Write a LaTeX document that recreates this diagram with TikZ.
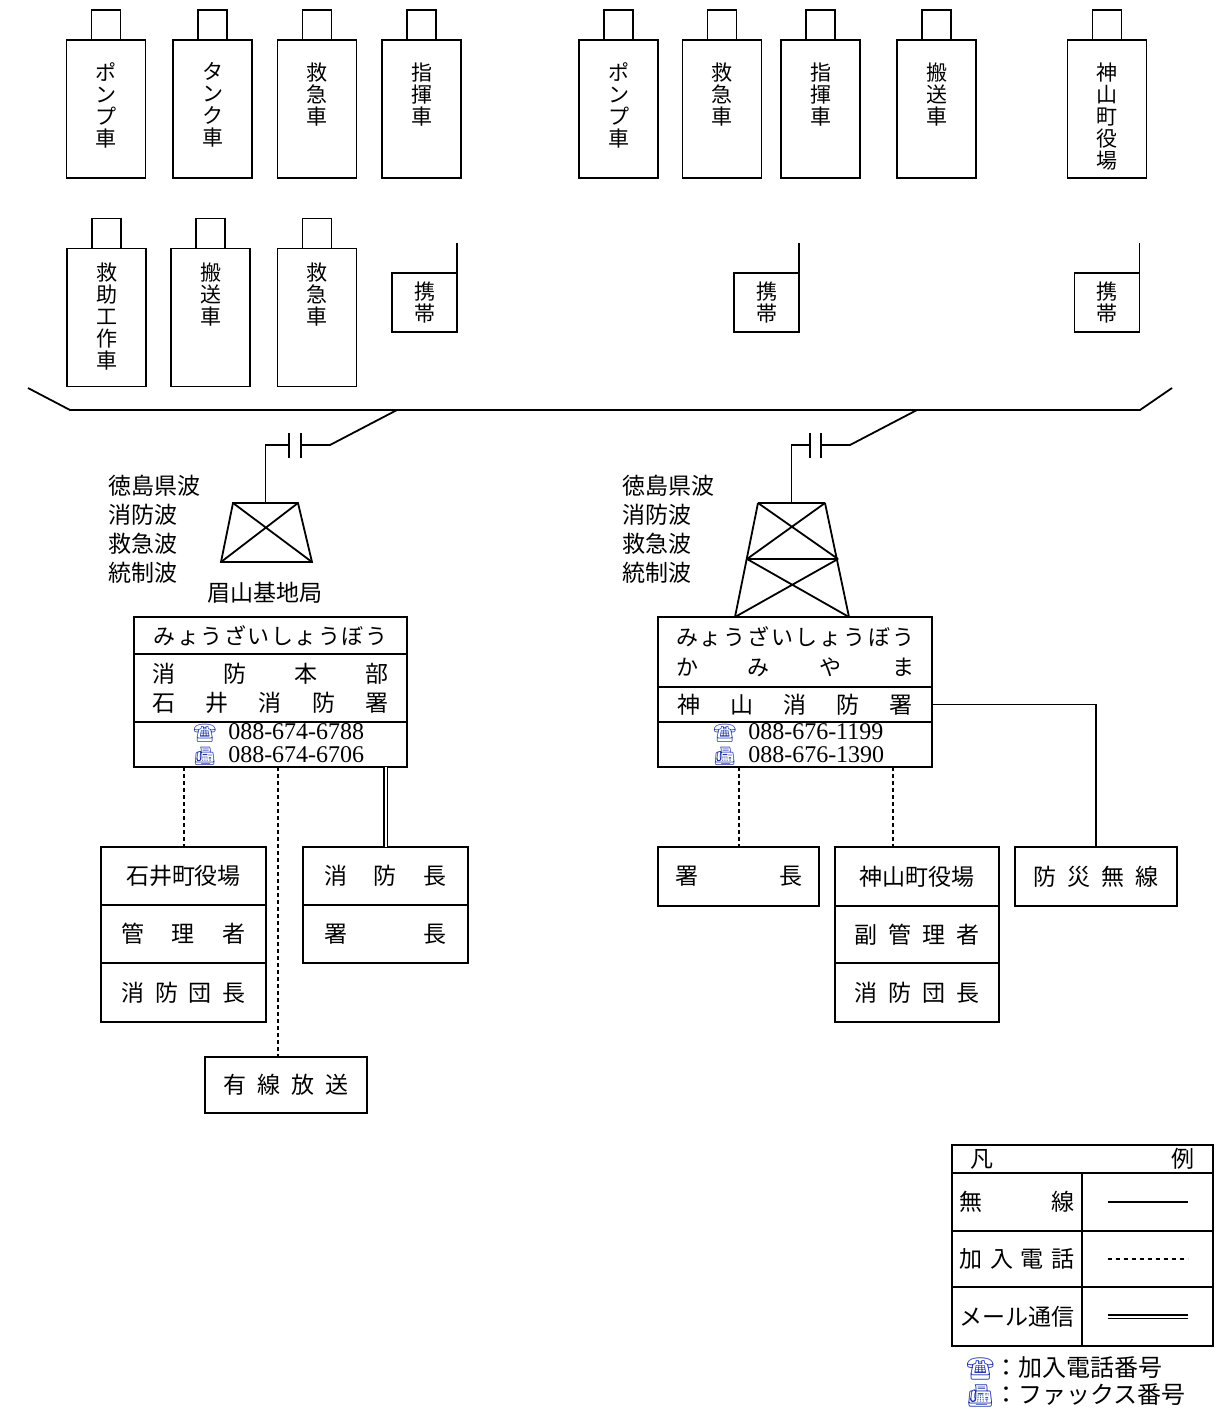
\documentclass[tikz,border=0pt]{standalone}
\usepackage{fontspec}
\setmainfont{Liberation Serif}
\newfontfamily\jpfont{Noto Sans CJK JP}
\newfontfamily\emojifont{Noto Emoji}
\usetikzlibrary{positioning}
\definecolor{iconblue}{RGB}{35,55,170}
\newcommand{\spread}[2]{\makebox[#1][s]{#2}}
\newcommand{\telicon}[1]{{\emojifont\fontsize{#1}{#1}\selectfont\color{iconblue}☎}}
\newcommand{\faxicon}[1]{{\emojifont\fontsize{#1}{#1}\selectfont\color{iconblue}📠}}
\tikzset{car/.style={draw,line width=0.9pt,minimum width=39.5pt,minimum height=69pt,inner sep=0pt,outer sep=0pt},
  roof/.style={draw,line width=0.9pt,minimum width=14.5pt,minimum height=15pt,inner sep=0pt,outer sep=0pt},
  mobile/.style={draw,line width=0.9pt,minimum width=32.5pt,minimum height=29.5pt,inner sep=0pt,outer sep=0pt},
  vlabel/.style={font=\jpfont\fontsize{10.5}{11}\selectfont,align=center,inner sep=0pt},
  row/.style={draw,line width=0.9pt,inner sep=0pt,outer sep=0pt,align=center,font=\jpfont\fontsize{11.5}{14.5}\selectfont},
  jplabel/.style={font=\jpfont\fontsize{11.5}{14.5}\selectfont,align=left,inner sep=0pt},
  telno/.style={font=\fontsize{12}{11.5}\selectfont,align=left,inner sep=0pt},
  wire/.style={line width=0.9pt},
  tel/.style={line width=1pt,dash pattern=on 2pt off 1.5pt},
  mail/.style={double,double distance=1pt,line width=0.6pt},}

\begin{document}
\begin{tikzpicture}[x=0.5pt,y=-0.5pt]
    \useasboundingbox (0,0) rectangle (1226,1409);
    % vehicles, left group
    \node[car] (c1) at (106,109) {};
    \node[car] (c2) at (212.5,109) {};
    \node[car] (c3) at (317,109) {};
    \node[car] (c4) at (421.5,109) {};
    \node[car] (c5) at (106.5,317.5) {};
    \node[car] (c6) at (210.5,317.5) {};
    \node[car] (c7) at (317,317.5) {};
    % vehicles, right group
    \node[car] (c8) at (618.5,109) {};
    \node[car] (c9) at (722,109) {};
    \node[car] (c10) at (820.5,109) {};
    \node[car] (c11) at (936.5,109) {};
    \node[car] (c12) at (1107,109) {};
    \node[roof] (r1) [above=0pt of c1] {};
    \node[roof] (r2) [above=0pt of c2] {};
    \node[roof] (r3) [above=0pt of c3] {};
    \node[roof] (r4) [above=0pt of c4] {};
    \node[roof] (r5) [above=0pt of c5] {};
    \node[roof] (r6) [above=0pt of c6] {};
    \node[roof] (r7) [above=0pt of c7] {};
    \node[roof] (r8) [above=0pt of c8] {};
    \node[roof] (r9) [above=0pt of c9] {};
    \node[roof] (r10) [above=0pt of c10] {};
    \node[roof] (r11) [above=0pt of c11] {};
    \node[roof] (r12) [above=0pt of c12] {};
    \node[vlabel,anchor=north] (t1) at ([yshift=-11pt]c1.north) {ポ\\ン\\プ\\車};
    \node[vlabel,anchor=north] (t2) at ([yshift=-11pt]c2.north) {タ\\ン\\ク\\車};
    \node[vlabel,anchor=north] (t3) at ([yshift=-11pt]c3.north) {救\\急\\車};
    \node[vlabel,anchor=north] (t4) at ([yshift=-11pt]c4.north) {指\\揮\\車};
    \node[vlabel,anchor=north] (t5) at ([yshift=-7pt]c5.north) {救\\助\\工\\作\\車};
    \node[vlabel,anchor=north] (t6) at ([yshift=-7pt]c6.north) {搬\\送\\車};
    \node[vlabel,anchor=north] (t7) at ([yshift=-7pt]c7.north) {救\\急\\車};
    \node[vlabel,anchor=north] (t8) at ([yshift=-11pt]c8.north) {ポ\\ン\\プ\\車};
    \node[vlabel,anchor=north] (t9) at ([yshift=-11pt]c9.north) {救\\急\\車};
    \node[vlabel,anchor=north] (t10) at ([yshift=-11pt]c10.north) {指\\揮\\車};
    \node[vlabel,anchor=north] (t11) at ([yshift=-11pt]c11.north) {搬\\送\\車};
    \node[vlabel,anchor=north] (t12) at ([yshift=-11pt]c12.north) {神\\山\\町\\役\\場};
    % portables
    \node[mobile,vlabel] (m1) at (424.5,302.5) {携\\帯};
    \node[mobile,vlabel] (m2) at (766.5,302.5) {携\\帯};
    \node[mobile,vlabel] (m3) at (1107,302.5) {携\\帯};
    \draw[wire] (m1.north east) -- ++(0,-30);
    \draw[wire] (m2.north east) -- ++(0,-30);
    \draw[wire] (m3.north east) -- ++(0,-30);

    % radio bus
    \coordinate (busW) at (28,388);
    \coordinate (busA) at (70,410);
    \coordinate (busB) at (1140,410);
    \coordinate (busE) at (1172,388);
    \draw[wire] (busW) -- (busA) -- (busB) -- (busE);

    % Bizan base station
    \coordinate (towerL) at (265.5,503);
    \draw[wire] (397,410) -- (330,445) -- (301,445);
    \draw[wire] (301,433) -- (301,458) (289,433) -- (289,458);
    \draw[wire] (289,445) -| (towerL);
    \draw[wire] (233,503) -- (298,503) -- (312,562) -- (221,562) -- cycle;
    \draw[wire] (233,503) -- (312,562) (298,503) -- (221,562);
    \node[jplabel,anchor=west] (bandsL) at (108,529.5) {徳島県波\\消防波\\救急波\\統制波};
    \node[jplabel] (bizan) at (265,593) {眉山基地局};

    % Kamiyama tower
    \coordinate (towerR) at (791.5,503);
    \draw[wire] (917,410) -- (850,445) -- (821,445);
    \draw[wire] (821,433) -- (821,458) (810,433) -- (810,458);
    \draw[wire] (810,445) -| (towerR);
    \draw[wire] (758,503) -- (825,503) (747,559) -- (838,559) (758,503) -- (735,617) (825,503) -- (849,617);
    \draw[wire] (758,503) -- (838,559) (825,503) -- (747,559) (747,559) -- (849,617) (838,559) -- (735,617);
    \node[jplabel,anchor=west] (bandsR) at (622,529.5) {徳島県波\\消防波\\救急波\\統制波};

    % headquarters
    \node[row,minimum width=136.5pt,minimum height=18.5pt] (hqA) at (270.5,635.5) {\spread{117pt}{\fontsize{11}{14}\selectfont み\hfil ょ\hfil う\hfil ざ\hfil い\hfil し\hfil ょ\hfil う\hfil ぼ\hfil う}};
    \node[row,minimum width=136.5pt,minimum height=34pt] (hqB) [below=0pt of hqA] {\spread{118pt}{消 防 本 部}\\\spread{118pt}{石 井 消 防 署}};
    \node[row,minimum width=136.5pt,minimum height=22.5pt] (hqC) [below=0pt of hqB] {};
    \node[telno,anchor=west] (hqTel) at ([xshift=29.5pt]hqC.west) {\telicon{9}\hspace{6pt}088-674-6788\\\faxicon{9}\hspace{6pt}088-674-6706};

    % Kamiyama station
    \node[row,minimum width=137pt,minimum height=35pt,font=\jpfont\fontsize{11}{15}\selectfont] (kA) at (795,652) {\spread{119pt}{み\hfil ょ\hfil う\hfil ざ\hfil い\hfil し\hfil ょ\hfil う\hfil ぼ\hfil う}\\\spread{119pt}{か み や ま}};
    \node[row,minimum width=137pt,minimum height=17.5pt] (kB) [below=0pt of kA] {\spread{118pt}{神 山 消 防 署}};
    \node[row,minimum width=137pt,minimum height=22.5pt] (kC) [below=0pt of kB] {};
    \node[telno,anchor=west] (kTel) at ([xshift=27.5pt]kC.west) {\telicon{9}\hspace{6pt}088-676-1199\\\faxicon{9}\hspace{6pt}088-676-1390};

    % lower boxes, left
    \node[row,minimum width=82.5pt,minimum height=29pt] (lA) at (183.5,876) {石井町役場};
    \node[row,minimum width=82.5pt,minimum height=29pt] (lB) [below=0pt of lA] {\spread{62pt}{管 理 者}};
    \node[row,minimum width=82.5pt,minimum height=29.5pt] (lC) [below=0pt of lB] {\spread{62pt}{消 防 団 長}};
    \node[row,minimum width=82.5pt,minimum height=29pt] (chA) at (385.5,876) {\spread{61pt}{消 防 長}};
    \node[row,minimum width=82.5pt,minimum height=29pt] (chB) [below=0pt of chA] {\spread{61pt}{署 長}};
    \node[row,minimum width=81pt,minimum height=28pt] (cable) at (286,1085) {\spread{62.5pt}{有 線 放 送}};
    \coordinate (cableTop) at ([xshift=-4pt]cable.north);

    % lower boxes, right
    \node[row,minimum width=80.5pt,minimum height=29.5pt] (heads) at (738.5,876.5) {\spread{63.5pt}{署 長}};
    \node[row,minimum width=82pt,minimum height=29.5pt] (town) at (917,876.5) {神山町役場};
    \node[row,minimum width=82pt,minimum height=28.5pt] (townB) [below=0pt of town] {\spread{62.5pt}{副 管 理 者}};
    \node[row,minimum width=82pt,minimum height=29.5pt] (townC) [below=0pt of townB] {\spread{62.5pt}{消 防 団 長}};
    \node[row,minimum width=81pt,minimum height=29.5pt] (bousai) at (1096,876.5) {\spread{62.5pt}{防 災 無 線}};
    \coordinate (townTop) at ([xshift=-12pt]town.north);

    \draw[tel] (hqC.south -| lA.north) -- (lA.north);
    \draw[tel] (hqC.south -| cableTop) -- (cableTop);
    \draw[mail] (hqC.south -| chA.north) -- (chA.north);
    \draw[tel] (kC.south -| heads.north) -- (heads.north);
    \draw[tel] (kC.south -| townTop) -- (townTop);
    \draw[wire] (kB.east) -| (bousai.north);

    % legend
    \node[row,minimum width=130.5pt,minimum height=14pt] (legHead) at (1082.5,1159) {\spread{112pt}{凡 例}};
    \node[row,minimum width=65pt,minimum height=29pt,anchor=north west] (legA1) at (legHead.south west) {\spread{57.5pt}{無 線}};
    \node[row,minimum width=65pt,minimum height=28pt] (legA2) [below=0pt of legA1] {\spread{57.5pt}{加 入 電 話}};
    \node[row,minimum width=65pt,minimum height=29.5pt] (legA3) [below=0pt of legA2] {メール通信};
    \node[row,minimum width=65.5pt,minimum height=29pt] (legB1) [right=0pt of legA1] {};
    \node[row,minimum width=65.5pt,minimum height=28pt] (legB2) [right=0pt of legA2] {};
    \node[row,minimum width=65.5pt,minimum height=29.5pt] (legB3) [right=0pt of legA3] {};
    \draw[line width=0.6pt] ([xshift=-20pt]legB1.center) -- ([xshift=20pt]legB1.center);
    \draw[line width=0.6pt,dash pattern=on 2pt off 2pt] ([xshift=-20pt]legB2.center) -- ([xshift=20pt]legB2.center);
    \draw[mail] ([xshift=-20pt]legB3.center) -- ([xshift=20pt]legB3.center);
    \node[jplabel,anchor=west,font=\jpfont\fontsize{12}{13}\selectfont] (noteTel) at (966,1368) {\telicon{11}：加入電話番号};
    \node[jplabel,anchor=west,font=\jpfont\fontsize{12}{13}\selectfont] (noteFax) at (966,1395) {\faxicon{11}：ファックス番号};
\end{tikzpicture}
\end{document}
